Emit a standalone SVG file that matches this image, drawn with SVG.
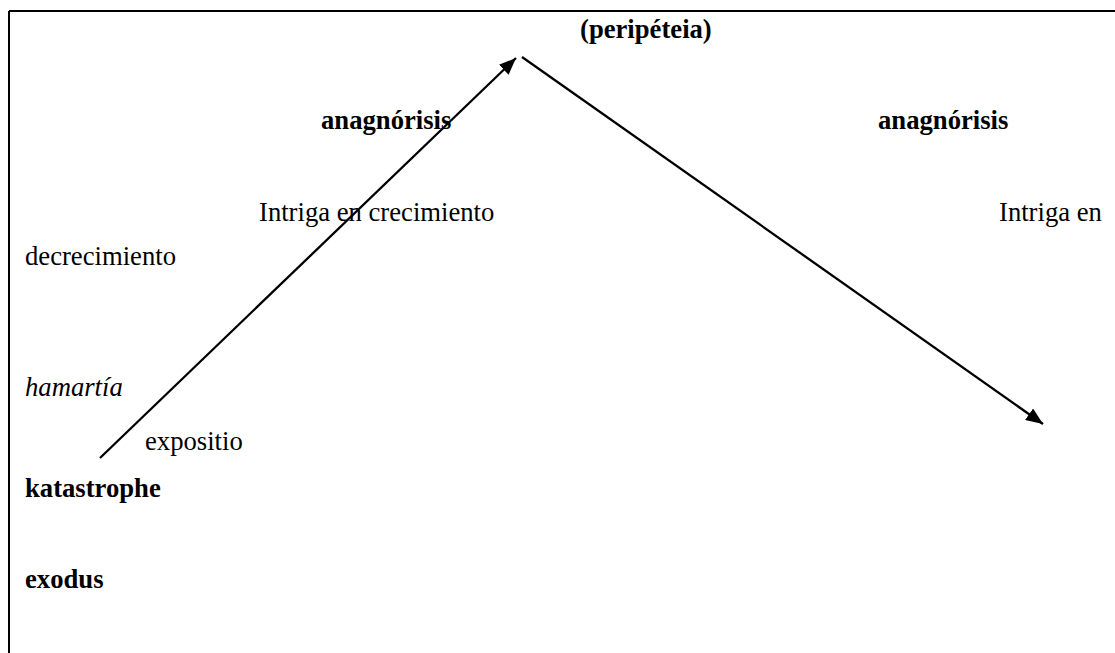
<svg xmlns="http://www.w3.org/2000/svg" width="1115" height="653" viewBox="0 0 1115 653">
<style>
text{font-family:"Liberation Serif","Times New Roman",serif;font-size:26.67px;fill:#000}
.b{font-weight:bold}
.i{font-style:italic}
.ln{stroke:#000;stroke-width:2.3;fill:none}
</style>
<defs>
<marker id="ah" viewBox="0 0 10 10" refX="10" refY="5" markerWidth="17" markerHeight="14" markerUnits="userSpaceOnUse" orient="auto" preserveAspectRatio="none">
<path d="M0,0 L10,5 L0,10 z" fill="#000"/>
</marker>
</defs>
<rect width="1115" height="653" fill="#fff"/>
<g id="frame">
<line x1="9" y1="11" x2="1115" y2="11" stroke="#000" stroke-width="2"/>
<line x1="9" y1="11" x2="9" y2="653" stroke="#000" stroke-width="2"/>
</g>
<g id="connectors">
<line class="ln" x1="100" y1="458" x2="516" y2="58" marker-end="url(#ah)"/>
<line class="ln" x1="522" y1="57" x2="1043" y2="424" marker-end="url(#ah)"/>
</g>
<g id="peripeteia"><text class="b" x="580" y="38">(peripéteia)</text></g>
<g id="anagnorisis-left"><text class="b" x="321" y="129">anagnórisis</text></g>
<g id="anagnorisis-right"><text class="b" x="878" y="129">anagnórisis</text></g>
<g id="intriga-crecimiento"><text x="259" y="221">Intriga en crecimiento</text></g>
<g id="intriga-decrecimiento"><text x="999" y="221">Intriga en</text><text x="25" y="265">decrecimiento</text></g>
<g id="hamartia"><text class="i" x="25" y="396">hamartía</text></g>
<g id="expositio"><text x="145" y="450">expositio</text></g>
<g id="katastrophe"><text class="b" x="25" y="497">katastrophe</text></g>
<g id="exodus"><text class="b" x="25" y="588">exodus</text></g>
</svg>
